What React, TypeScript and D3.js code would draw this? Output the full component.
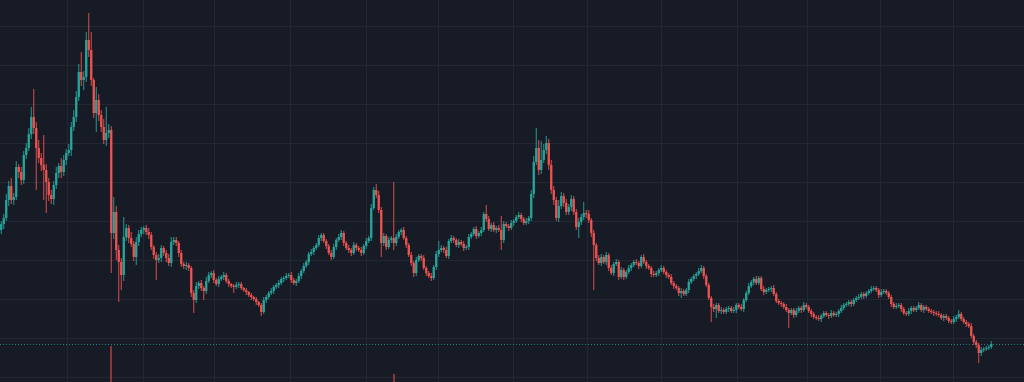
import React from "react";
import * as d3 from "d3";

// Close prices per candle (open = previous close)
const firstOpen = 170;
const closes = [
  176,182,200,214,200,203,233,228,220,245,
  252,266,283,272,252,242,235,230,218,205,
  201,215,227,234,228,240,247,250,273,283,
  303,328,320,323,360,350,320,287,300,285,
  273,260,267,270,167,188,150,138,125,163,
  172,162,156,143,158,166,170,172,168,165,
  153,145,140,142,152,147,142,137,158,160,
  157,147,136,134,135,132,107,100,114,117,
  112,109,119,125,127,120,116,121,123,125,
  119,116,114,113,115,116,112,110,108,105,
  103,101,98,95,88,100,103,107,109,113,
  115,117,121,122,124,125,120,117,119,124,
  129,134,138,146,148,152,155,162,165,159,
  154,147,143,153,160,163,167,157,152,150,
  147,155,152,150,147,154,159,162,192,210,
  205,190,157,164,153,160,162,157,163,168,
  170,162,155,145,137,127,140,144,142,132,
  127,124,122,133,146,150,152,150,144,159,
  162,160,155,158,156,152,153,163,166,171,
  164,167,170,186,181,171,175,170,172,170,
  160,176,174,172,177,179,183,185,181,177,
  179,182,206,238,252,230,240,250,257,235,
  210,200,182,194,204,197,188,193,201,188,
  173,178,183,187,186,180,167,155,142,137,
  143,138,145,132,127,136,138,123,130,123,
  128,132,135,138,137,134,143,138,134,132,
  126,125,127,130,132,128,125,123,117,114,
  112,107,109,106,110,118,121,124,126,129,
  132,124,115,102,93,91,95,89,90,88,
  91,92,89,90,95,93,91,100,107,114,
  118,121,117,122,111,108,110,111,112,106,
  99,97,96,93,90,87,90,85,89,92,
  90,95,93,89,86,83,82,81,84,87,
  85,84,87,85,86,89,92,95,96,98,
  96,100,102,103,106,104,107,109,111,112,
  110,105,108,109,107,103,96,93,94,95,
  91,87,86,89,92,90,92,95,90,93,
  91,89,88,87,86,85,82,84,82,79,
  78,81,83,86,81,78,76,74,64,58,
  55,47,50,51,52,53,56,
];

// Wick extents beyond the body (upper / lower)
const wickHi = [
  3,4,6,5,8,4,6,3,5,4, 5,6,10,28,6,8,5,30,6,4, 5,4,6,3,8,5,4,6,5,7, 6,8,20,6,8,27,18,2,13,6,
  5,8,26,6,4,15,6,5,4,20, 4,3,6,3,5,4,3,2,3,4, 3,2,3,4,3,2,3,4,5,3, 3,2,3,2,3,2,2,3,4,2,
  3,2,4,3,2,3,2,3,2,3, 2,2,1,2,3,2,2,1,2,1, 2,1,2,1,2,3,2,2,3,2, 2,3,2,2,3,2,3,2,2,3,
  2,3,2,2,3,2,2,3,2,2, 2,2,3,3,2,3,3,2,2,3, 2,3,2,2,3,2,3,2,4,3, 6,4,3,3,2,3,2,56,3,2,
  2,3,2,2,3,2,3,2,2,3, 2,2,3,2,3,9,3,2,3,2, 3,2,2,3,2,3,2,3,2,2, 3,2,3,2,9,3,2,3,2,3,
  14,3,2,2,3,2,2,3,2,2, 3,2,4,6,20,8,19,6,7,4, 5,4,3,6,4,3,4,3,4,3, 3,4,3,11,3,4,2,3,2,3,
  3,2,3,2,3,2,3,2,3,2, 2,3,2,2,3,2,2,3,2,2, 2,3,2,2,3,2,2,2,3,2, 2,2,3,2,2,3,2,2,2,3,
  3,2,2,2,2,3,2,2,3,2, 2,2,2,3,2,2,3,2,2,3, 2,2,3,2,2,3,2,2,2,3, 2,2,2,2,3,2,2,2,3,2,
  2,3,2,2,2,2,2,3,2,2, 2,2,3,2,2,2,3,2,2,2, 2,2,2,3,2,2,2,2,3,2, 2,2,3,2,2,2,2,2,3,2,
  2,2,2,3,2,2,2,3,2,2, 2,2,2,2,2,3,2,2,2,2, 2,3,2,4,2,2,2,2,3,2, 2,2,3,2,2,2,3,
];
const wickLo = [
  4,5,3,6,4,5,3,6,5,4, 4,3,5,6,42,5,6,30,31,6, 5,6,4,5,6,4,5,3,6,4, 5,4,6,10,5,7,6,5,19,6,
  5,4,6,5,40,6,10,40,15,6, 4,5,3,4,8,4,3,4,3,4, 3,4,20,3,4,3,4,3,4,3, 3,4,3,3,4,3,4,13,3,3,
  3,9,3,2,3,3,2,3,2,3, 2,3,2,6,2,3,2,2,3,2, 3,2,3,2,4,2,3,2,2,3, 2,3,2,3,2,2,3,2,3,2,
  3,2,2,3,2,3,2,2,3,2, 3,2,3,2,3,2,3,3,2,3, 3,2,3,2,3,2,3,2,3,2, 3,3,14,3,3,2,3,7,3,2,
  3,2,3,2,3,4,3,2,3,2, 3,2,3,2,3,3,2,3,2,3, 2,3,2,3,2,3,2,3,2,2, 3,2,3,2,3,2,3,2,3,2,
  10,3,2,3,2,3,2,2,3,2, 2,3,3,4,3,5,4,3,4,5, 4,5,3,4,3,4,3,3,4,3, 3,11,3,3,4,3,4,45,3,2,
  3,2,3,3,2,3,2,3,2,3, 2,2,3,2,2,3,2,2,3,2, 3,2,2,3,2,2,3,2,2,3, 2,3,5,2,2,3,2,2,3,2,
  2,3,2,2,15,3,9,2,3,2, 2,3,2,2,3,2,2,3,2,2, 2,3,2,2,2,3,2,2,3,2, 2,2,3,2,2,15,2,3,2,2,
  3,2,2,2,3,2,2,2,3,2, 2,3,2,2,2,3,2,2,2,2, 3,2,2,2,2,3,2,2,2,2, 2,3,2,2,2,2,3,2,2,2,
  3,2,2,2,3,2,2,2,2,3, 2,2,2,3,2,2,2,3,2,2, 2,2,3,2,2,2,3,2,2,3, 3,10,3,2,2,2,2,
];

// Only the largest volume bars reach into view
const volumeIndex = [44, 157];
const volumeValue = [100, 67];

// Grid: time gridlines (candle index) and price gridlines
const timeGrid = [26.3, 56.7, 85.1, 115.5, 145.9, 174.7, 204.7, 234.3, 263.9, 294.3, 322.3, 351.5, 380.7];
const priceGrid = [374, 335, 296, 257, 218, 179, 140, 101, 62, 23];

const W = 1024;
const H = 382;
const UP = "#26a69a";
const DOWN = "#ef5350";
const BG = "#171b26";
const GRID = "#232633";

export default function App() {
  const n = closes.length;
  const x = d3.scaleLinear().domain([0, n - 1]).range([1.25, 1.25 + 2.5 * (n - 1)]);
  const y = d3.scaleLinear().domain([18, 400]).range([H, 0]);
  const vol = d3.scaleLinear().domain([0, 100]).range([430, 346]);

  const candles = closes.map((c, i) => {
    const o = i === 0 ? firstOpen : closes[i - 1];
    const top = Math.max(o, c);
    const bot = Math.min(o, c);
    return { i, o, c, h: top + wickHi[i], l: bot - wickLo[i], top, bot, up: c >= o };
  });
  const last = candles[n - 1];

  return (
    <svg
      width={W}
      height={H}
      style={{ position: "absolute", left: 0, top: 0, display: "block", background: BG }}
    >
      <rect x={0} y={0} width={W} height={H} fill={BG} />
      <g shapeRendering="crispEdges">
        {timeGrid.map((t, k) => (
          <line key={"vg" + k} x1={Math.round(x(t)) + 0.5} x2={Math.round(x(t)) + 0.5} y1={0} y2={H} stroke={GRID} strokeWidth={1} />
        ))}
        {priceGrid.map((p, k) => (
          <line key={"hg" + k} x1={0} x2={W} y1={Math.round(y(p)) + 0.5} y2={Math.round(y(p)) + 0.5} stroke={GRID} strokeWidth={1} />
        ))}
      </g>
      <g shapeRendering="crispEdges">
        {volumeIndex.map((vi, k) => {
          const cd = candles[vi];
          const cx = x(vi);
          const top = vol(volumeValue[k]);
          return (
            <rect
              key={"v" + k}
              x={Math.round(cx - 1)}
              y={top}
              width={2}
              height={Math.max(0, H - top)}
              fill={cd.up ? UP : DOWN}
              fillOpacity={0.5}
            />
          );
        })}
      </g>
      <line
        x1={0}
        x2={W}
        y1={Math.round(y(last.c)) + 0.5}
        y2={Math.round(y(last.c)) + 0.5}
        stroke={last.up ? UP : DOWN}
        strokeOpacity={0.75}
        strokeWidth={1}
        strokeDasharray="1 2"
      />
      <g>
        {candles.map((cd) => {
          const cx = x(cd.i);
          const col = cd.up ? UP : DOWN;
          const bt = y(cd.top);
          const bb = y(cd.bot);
          const wt = y(cd.h);
          const wb = y(cd.l);
          return (
            <g key={cd.i}>
              <rect x={cx - 0.5} y={wt} width={1} height={Math.max(1, wb - wt)} fill={col} fillOpacity={0.9} />
              <rect x={cx - 1.15} y={bt} width={2.3} height={Math.max(1, bb - bt)} fill={col} />
            </g>
          );
        })}
      </g>
    </svg>
  );
}
